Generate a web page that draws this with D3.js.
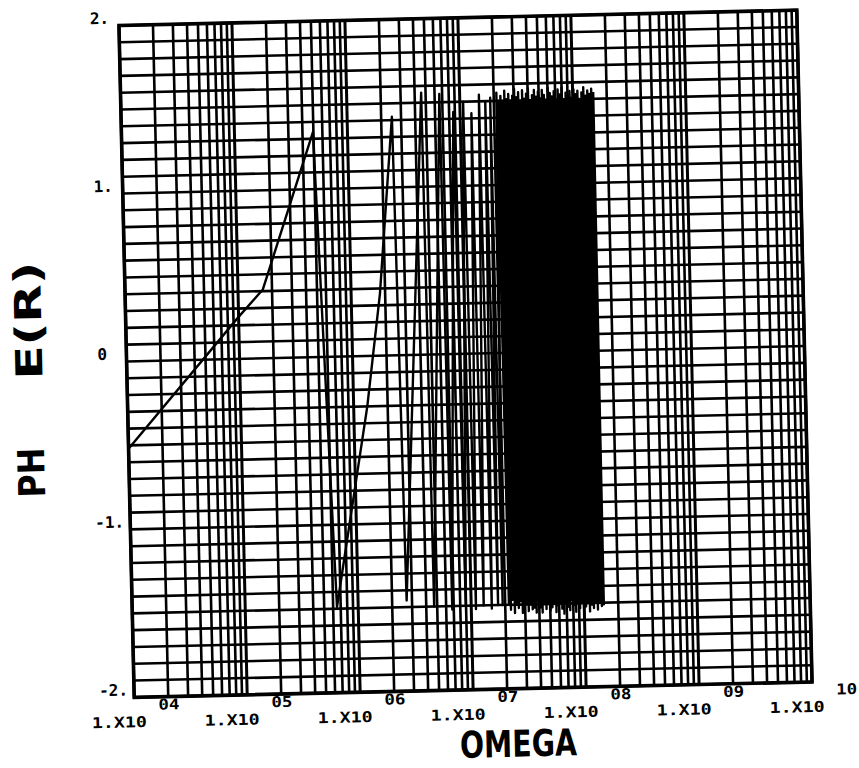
<!DOCTYPE html>
<html>
<head>
<meta charset="utf-8">
<script src="https://cdn.jsdelivr.net/npm/d3@7"></script>
<style>
  body { margin: 0; background: #fff; }
  svg { display: block; background: #fff; }
  text { font-family: "DejaVu Sans Mono", "Liberation Mono", monospace; font-weight: bold; fill: #000; }
</style>
</head>
<body>
<svg id="chart" width="859" height="768"></svg>
<script>
// phase curve (omega in rad/s, phase in rad)
var sweepOmega = [1.0e4, 1.0e5, 1.66e5, 4.95e5, 6.49e5, 1.32e6, 1.80e6, 2.49e6, 2.69e6,
                  4.57e6, 4.70e6, 6.61e6, 6.79e6, 8.71e6, 8.95e6, 1.07e7, 1.10e7,
                  1.26e7, 1.29e7, 1.48e7, 1.52e7, 1.68e7, 1.73e7, 1.86e7, 1.90e7];
var sweepPhase = [-0.52, 0.25, 0.41, 1.34, -1.49, -0.30, 0.37, 1.42, -1.46,
                  1.56, -1.50, 1.55, -1.52, 1.44, -1.50, 1.50, -1.52,
                  1.43, -1.50, 1.54, -1.52, 1.50, -1.50, 1.52, -1.50];

// the solid black band: samples too coarse for the wrap rate
var denseOmega = [2.114e7, 2.157e7, 2.201e7, 2.246e7, 2.291e7, 2.338e7,
                  2.385e7, 2.433e7, 2.483e7, 2.533e7, 2.585e7, 2.637e7, 2.691e7, 2.746e7, 2.802e7, 2.859e7,
                  2.917e7, 2.976e7, 3.037e7, 3.099e7, 3.162e7, 3.226e7, 3.292e7, 3.359e7, 3.427e7, 3.497e7,
                  3.568e7, 3.640e7, 3.715e7, 3.790e7, 3.868e7, 3.947e7, 4.027e7, 4.109e7, 4.192e7, 4.277e7,
                  4.364e7, 4.453e7, 4.544e7, 4.636e7, 4.730e7, 4.826e7, 4.925e7, 5.025e7, 5.127e7, 5.231e7,
                  5.338e7, 5.446e7, 5.558e7, 5.671e7, 5.786e7, 5.903e7, 6.024e7, 6.146e7, 6.272e7, 6.399e7,
                  6.529e7, 6.662e7, 6.798e7, 6.936e7, 7.077e7, 7.221e7, 7.368e7, 7.518e7, 7.671e7, 7.827e7,
                  7.986e7, 8.148e7, 8.314e7, 8.483e7, 8.656e7, 8.832e7, 9.012e7, 9.195e7, 9.382e7, 9.572e7,
                  9.768e7, 9.966e7, 1.017e8, 1.038e8, 1.059e8, 1.080e8, 1.102e8, 1.124e8, 1.148e8, 1.171e8,
                  1.195e8, 1.219e8, 1.244e8, 1.269e8, 1.295e8, 1.321e8, 1.348e8, 1.375e8, 1.404e8, 1.433e8,
                  1.461e8, 1.491e8, 1.521e8];
var densePhase = [1.55, -1.49, 1.50, -1.53, 1.53, -1.47,
                  1.49, -1.55, 1.56, -1.50, 1.51, -1.52, 1.54, -1.48, 1.50, -1.55,
                  1.53, -1.51, 1.57, -1.49, 1.52, -1.54, 1.55, -1.50, 1.49, -1.53,
                  1.56, -1.52, 1.51, -1.55, 1.54, -1.48, 1.57, -1.52, 1.50, -1.55,
                  1.53, -1.50, 1.56, -1.53, 1.52, -1.49, 1.55, -1.54, 1.51, -1.52,
                  1.56, -1.50, 1.53, -1.55, 1.50, -1.51, 1.57, -1.49, 1.54, -1.53,
                  1.52, -1.56, 1.55, -1.50, 1.49, -1.52, 1.56, -1.54, 1.53, -1.48,
                  1.57, -1.51, 1.50, -1.55, 1.54, -1.50, 1.52, -1.53, 1.55, -1.49,
                  1.51, -1.54, 1.56, -1.52, 1.53, -1.50, 1.55, -1.55, 1.50, -1.51,
                  1.54, -1.53, 1.57, -1.49, 1.52, -1.54, 1.55, -1.50, 1.53, -1.52,
                  1.56, -1.51, 1.54];

var yTickValues = [2, 1, 0, -1, -2];
var yTickLabels = ["2.", "1.", "0", "-1.", "-2."];
var xDecades = [1e4, 1e5, 1e6, 1e7, 1e8, 1e9, 1e10];
var xExponents = ["04", "05", "06", "07", "08", "09", "10"];

var W = 678, H = 672;
var svg = d3.select("#chart");

// whole sheet is scanned slightly tilted
var g = svg.append("g")
    .attr("transform", "rotate(-1.3,465.5,353.75) translate(126.5,17.75)");

var x = d3.scaleLog().domain([1e4, 1e10]).range([0, W]);
var y = d3.scaleLinear().domain([-2, 2]).range([H, 0]);

// grid
g.selectAll(".hgrid").data(y.ticks(40)).join("line")
    .attr("class", "hgrid")
    .attr("x1", 0).attr("x2", W)
    .attr("y1", function (d) { return y(d); })
    .attr("y2", function (d) { return y(d); })
    .style("stroke", "#000").style("stroke-width", 2.6);

g.selectAll(".vgrid").data(x.ticks()).join("line")
    .attr("class", "vgrid")
    .attr("y1", 0).attr("y2", H)
    .attr("x1", function (d) { return x(d); })
    .attr("x2", function (d) { return x(d); })
    .style("stroke", "#000")
    .style("stroke-width", function (d) { return xDecades.indexOf(d) >= 0 ? 3.0 : 2.6; });

g.append("rect")
    .attr("x", 0).attr("y", 0).attr("width", W).attr("height", H)
    .style("fill", "none").style("stroke", "#000").style("stroke-width", 3.6);

// curve
var pts = sweepOmega.map(function (w, i) { return [w, sweepPhase[i]]; })
    .concat(denseOmega.map(function (w, i) { return [w, densePhase[i]]; }));

var line = d3.line()
    .x(function (d) { return x(d[0]); })
    .y(function (d) { return y(d[1]); });

g.append("path")
    .datum(pts)
    .attr("d", line)
    .style("fill", "none")
    .style("stroke", "#000")
    .style("stroke-width", 2.4)
    .style("stroke-linejoin", "round");

// y tick labels
g.selectAll(".ylab").data(yTickValues).join("text")
    .attr("class", "ylab")
    .attr("x", function (d) { return d < 0 ? -35 : -29; })
    .attr("y", function (d) { return y(d) - 2; })
    .style("font-size", "16px")
    .text(function (d, i) { return yTickLabels[i]; });

// x tick labels: 1.X10 with the exponent raised beside it
g.selectAll(".xlab").data(xDecades).join("text")
    .attr("class", "xlab")
    .attr("x", function (d) { return x(d) + 12; })
    .attr("y", H + 30)
    .attr("text-anchor", "end")
    .attr("textLength", 55)
    .attr("lengthAdjust", "spacingAndGlyphs")
    .style("font-size", "15px")
    .text("1.X10");

g.selectAll(".xexp").data(xDecades).join("text")
    .attr("class", "xexp")
    .attr("x", function (d) { return x(d) + 24; })
    .attr("y", H + 13)
    .attr("textLength", 21)
    .attr("lengthAdjust", "spacingAndGlyphs")
    .style("font-size", "15px")
    .text(function (d, i) { return xExponents[i]; });

// axis titles
g.append("text")
    .attr("x", 324.5).attr("y", H + 68)
    .attr("textLength", 117)
    .attr("lengthAdjust", "spacingAndGlyphs")
    .style("font-family", "'DejaVu Sans', sans-serif")
    .style("font-size", "37px")
    .text("OMEGA");

g.append("text")
    .attr("transform", "translate(-84.5,470) rotate(-90)")
    .attr("textLength", 50)
    .attr("lengthAdjust", "spacingAndGlyphs")
    .style("font-family", "'DejaVu Sans', sans-serif")
    .style("font-size", "37px")
    .text("PH");

g.append("text")
    .attr("transform", "translate(-84.5,352) rotate(-90)")
    .attr("textLength", 118)
    .attr("lengthAdjust", "spacingAndGlyphs")
    .style("font-family", "'DejaVu Sans', sans-serif")
    .style("font-size", "37px")
    .text("E(R)");
</script>
</body>
</html>
